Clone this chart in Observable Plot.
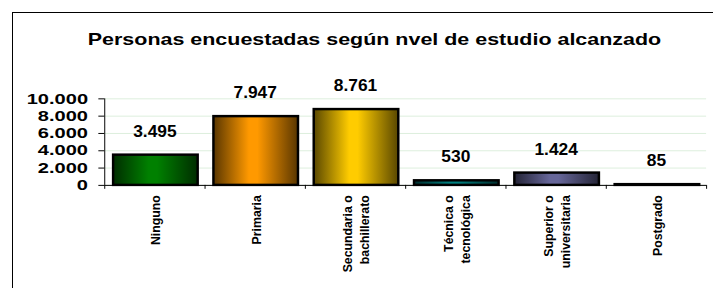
<!DOCTYPE html>
<html>
<head>
<meta charset="utf-8">
<script src="https://cdn.jsdelivr.net/npm/d3@7"></script>
<script src="https://cdn.jsdelivr.net/npm/@observablehq/plot@0.6"></script>
<style>
  html, body { margin: 0; padding: 0; background: #fff; overflow: hidden; width: 713px; height: 288px; }
  body { position: relative; font-family: "Liberation Sans", Arial, sans-serif; }
  #frame { position: absolute; left: 12px; top: 12px; width: 900px; height: 400px;
           border-left: 1px solid #000; border-top: 1px solid #000; box-sizing: border-box; }
  #title { position: absolute; left: 12px; top: 29px; width: 725px; text-align: center;
           font-weight: bold; font-size: 16.5px; line-height: 20px; color: #000;
           transform: scaleX(1.3); transform-origin: 362.5px 0; }
  #chart { position: absolute; left: 0; top: 60px; }
</style>
</head>
<body>
<div id="frame"></div>
<div id="title">Personas encuestadas según nvel de estudio alcanzado</div>
<div id="chart"></div>
<script>
const categories = ["Ninguno", "Primaria", "Secundaria o\nbachillerato", "Técnica o\ntecnológica", "Superior o\nuniversitaria", "Postgrado"];
const values = [3495, 7947, 8761, 530, 1424, 85];
const yTicks = [0, 2000, 4000, 6000, 8000, 10000];
const barColors = ["#008000", "#ff9900", "#ffcc00", "#008080", "#666699", "#333333"];

const fmt = d3.formatLocale({decimal: ",", thousands: ".", grouping: [3], currency: ["", ""]}).format(",d");
const data = categories.map((c, i) => ({i, cat: c, value: values[i]}));
const gradIds = barColors.map((c, i) => `url(#barGrad${i})`);

const chart = Plot.plot({
  width: 725,
  height: 228,
  marginLeft: 106,
  marginRight: 7,
  marginTop: 39,
  marginBottom: 101,
  style: {fontFamily: "'Liberation Sans', Arial, sans-serif", color: "#000", background: "transparent"},
  x: {domain: [0, categories.length]},
  y: {domain: [0, 10000]},
  color: {type: "ordinal", domain: categories, range: gradIds},
  marks: [
    Plot.gridY({ticks: yTicks, stroke: "#dcefdc", strokeOpacity: 1, strokeWidth: 1}),
    Plot.rectY(data, {x1: d => d.i, x2: d => d.i + 1, y1: 0, y2: "value", fill: "cat",
      stroke: "#000", strokeWidth: 2.5, insetLeft: 9, insetRight: 7}),
    Plot.ruleY([0], {stroke: "#000", strokeWidth: 1}),
    Plot.ruleX([0], {y1: 0, y2: 10000, stroke: "#000", strokeWidth: 1}),
    Plot.axisY({ticks: yTicks, tickSize: 6, tickPadding: 11, tickFormat: fmt, label: null,
      fontSize: 15, fontWeight: "bold", stroke: "#000"}),
    Plot.axisX({ticks: d3.range(categories.length + 1), tickSize: 4, tickFormat: () => "", label: null, stroke: "#000"}),
    Plot.text(data, {x: d => d.i + 0.5, y: "value", text: d => fmt(d.value), dy: -24,
      fontSize: 16.5, fontWeight: "bold", fill: "#000"}),
    Plot.text(data, {x: d => d.i + 0.5, y: 0, text: "cat", dy: 10, rotate: -90,
      textAnchor: "end", lineHeight: 1.38, fontSize: 12.5, fontWeight: "bold", fill: "#000"})
  ]
});

// gradient definitions for the bar fills
const svg = d3.select(chart);
const defs = svg.insert("defs", ":first-child");
barColors.forEach((c, i) => {
  const base = d3.color(c);
  const dark = d3.interpolateRgb("#000", base)(0.35);
  const g = defs.append("linearGradient").attr("id", `barGrad${i}`)
    .attr("x1", "0%").attr("x2", "100%").attr("y1", "0%").attr("y2", "0%");
  g.append("stop").attr("offset", "0%").attr("stop-color", dark);
  g.append("stop").attr("offset", "42%").attr("stop-color", base.formatHex());
  g.append("stop").attr("offset", "52%").attr("stop-color", base.formatHex());
  g.append("stop").attr("offset", "100%").attr("stop-color", dark);
});

// widen text horizontally (as in the reference), keeping Plot's own placement
function stretch(sel, k) {
  sel.each(function() {
    const t = this.getAttribute("transform");
    if (t) this.setAttribute("transform", t + ` scale(${k},1)`);
  });
}
stretch(svg.selectAll('g[aria-label="y-axis tick label"] text'), 1.36);
svg.selectAll('g[aria-label="text"]').each(function(d, idx) {
  if (idx === 0) stretch(d3.select(this).selectAll("text"), 1.07);
});

document.getElementById("chart").appendChild(chart);
</script>
</body>
</html>
